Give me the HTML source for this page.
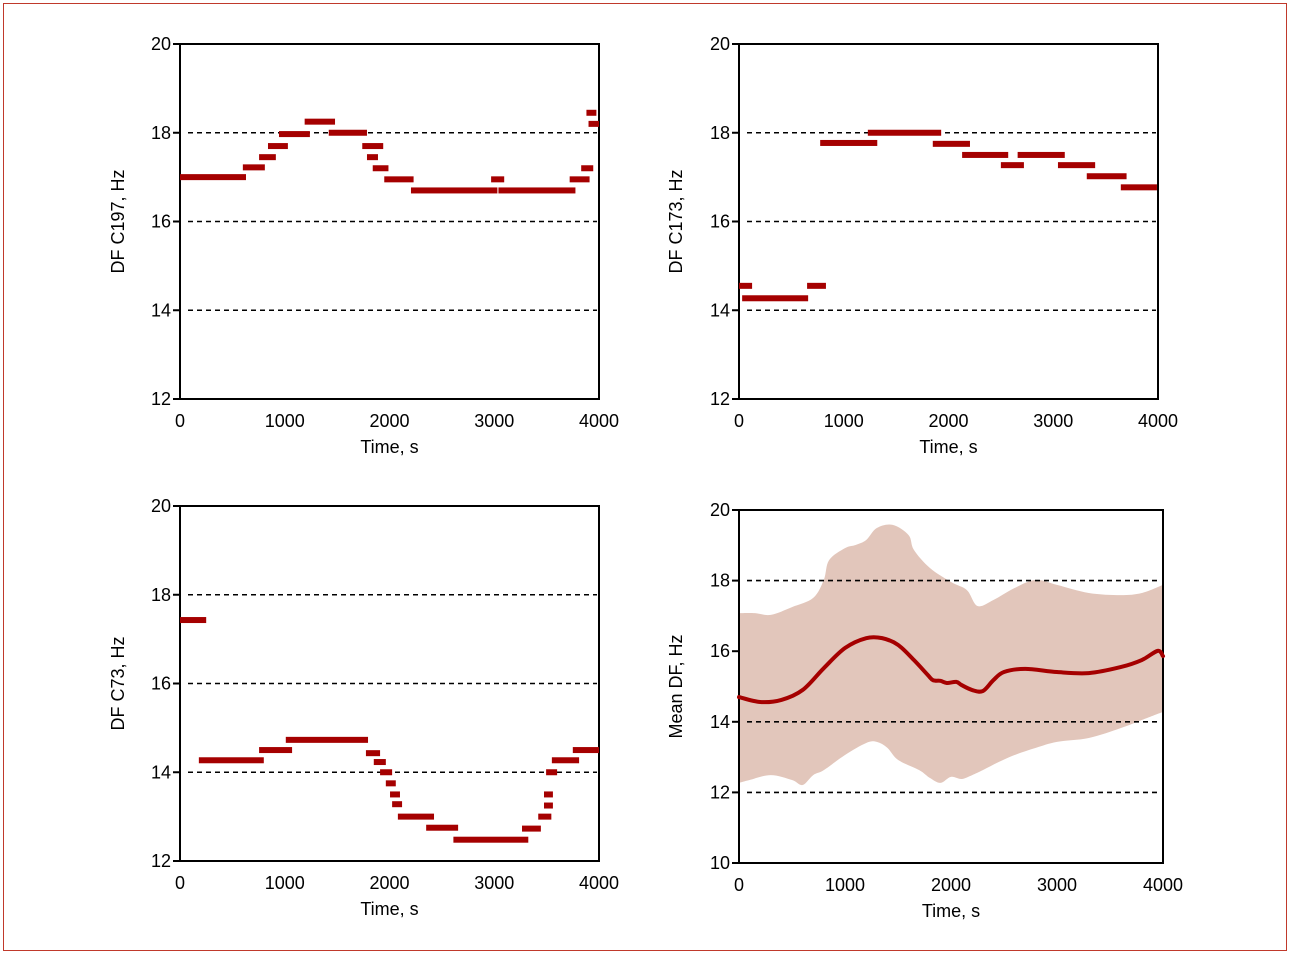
<!DOCTYPE html>
<html><head><meta charset="utf-8"><style>
body{margin:0;background:#fff;}
svg{display:block;font-family:"Liberation Sans Narrow","Liberation Sans",sans-serif;}
</style></head><body>
<svg id="chart" width="1290" height="958" xmlns="http://www.w3.org/2000/svg">
<rect x="3.5" y="3.5" width="1283" height="947" fill="none" stroke="#c0392b" stroke-width="1"/>
</svg>
<script>
// Data: bars as [startTime, endTime, DF]
const c197Bars=[[0,630,17.0],[600,810,17.22],[755,915,17.45],[840,1030,17.7],[945,1240,17.97],[1190,1480,18.25],[1420,1785,18.0],[1740,1940,17.7],[1785,1890,17.45],[1840,1990,17.2],[1950,2230,16.95],[2205,3030,16.7],[2970,3095,16.95],[3040,3775,16.7],[3720,3910,16.95],[3830,3945,17.2],[3880,3975,18.45],[3900,4000,18.2]];
const c173Bars=[[0,125,14.55],[30,660,14.27],[650,830,14.55],[775,1320,17.77],[1230,1930,18.0],[1850,2205,17.75],[2130,2570,17.5],[2500,2720,17.27],[2660,3110,17.5],[3045,3400,17.27],[3320,3700,17.02],[3645,3990,16.77]];
const c73Bars=[[0,250,17.43],[180,800,14.27],[755,1070,14.5],[1010,1795,14.73],[1775,1910,14.43],[1850,1965,14.23],[1910,2025,14.0],[1965,2060,13.75],[2005,2100,13.5],[2025,2120,13.28],[2080,2425,13.0],[2350,2655,12.75],[2610,3325,12.48],[3265,3445,12.73],[3420,3545,13.0],[3475,3560,13.25],[3475,3560,13.5],[3495,3600,14.0],[3550,3810,14.27],[3750,4000,14.5]];
const meanT=[0,200,400,600,800,1000,1200,1350,1500,1650,1780,1830,1900,1960,2050,2100,2200,2300,2400,2500,2700,3000,3300,3600,3800,3950,4000];
const meanV=[14.70,14.56,14.62,14.90,15.52,16.09,16.37,16.37,16.18,15.75,15.33,15.18,15.16,15.10,15.13,15.04,14.90,14.87,15.18,15.41,15.50,15.41,15.38,15.55,15.75,16.01,15.86];
const upperT=[0,150,300,500,700,800,850,1000,1100,1200,1300,1450,1600,1650,1800,2000,2150,2250,2400,2600,2800,3000,3300,3600,3800,4000];
const upperV=[17.08,17.08,17.03,17.25,17.51,18.02,18.58,18.92,19.01,19.15,19.49,19.58,19.29,18.87,18.36,17.96,17.73,17.28,17.45,17.79,18.02,17.88,17.65,17.59,17.65,17.88];
const lowerT=[0,100,300,500,600,700,800,1000,1200,1300,1400,1500,1700,1800,1900,2000,2100,2200,2300,2450,2600,2800,3000,3300,3600,3800,4000];
const lowerV=[12.27,12.35,12.49,12.35,12.21,12.49,12.63,13.06,13.40,13.43,13.26,12.92,12.63,12.41,12.27,12.44,12.38,12.49,12.63,12.86,13.06,13.26,13.43,13.54,13.82,14.05,14.28];
const xTicks=[0,1000,2000,3000,4000];
const yTicks1=[12,14,16,18,20];
const yTicks4=[10,12,14,16,18,20];

const NS="http://www.w3.org/2000/svg";
const svg=document.getElementById('chart');
function mk(tag,attrs,parent){const e=document.createElementNS(NS,tag);for(const k in attrs)e.setAttribute(k,attrs[k]);(parent||svg).appendChild(e);return e;}
function smooth(pts,start){
  let d=(start?'M':'L')+pts[0][0]+','+pts[0][1];
  for(let i=0;i<pts.length-1;i++){
    const p0=pts[Math.max(0,i-1)],p1=pts[i],p2=pts[i+1],p3=pts[Math.min(pts.length-1,i+2)];
    const c1=[p1[0]+(p2[0]-p0[0])/6,p1[1]+(p2[1]-p0[1])/6];
    const c2=[p2[0]-(p3[0]-p1[0])/6,p2[1]-(p3[1]-p1[1])/6];
    d+=` C${c1[0]},${c1[1]} ${c2[0]},${c2[1]} ${p2[0]},${p2[1]}`;
  }
  return d;
}

function panel(name,L,R,T,B,ymin,ymax,yTicks,dashes,ylabel,ylx){
  const g=mk('g',{});
  
  
  const sx=t=>L+(t/4000)*(R-L);
  const sy=v=>B-(v-ymin)/(ymax-ymin)*(B-T);
  dashes.forEach(v=>{const l=mk('line',{x1:L+8,x2:R-2,y1:sy(v),y2:sy(v),stroke:'#000','stroke-width':1.6,'stroke-dasharray':'5,4'},g);
    
    });
  const ax=mk('path',{d:`M${L},${T} V${B} H${R} V${T} H${L}`,fill:'none',stroke:'#000','stroke-width':2},g);
  
  
  yTicks.forEach(v=>{mk('line',{x1:L-7,x2:L,y1:sy(v),y2:sy(v),stroke:'#000','stroke-width':2},g);
    const t=mk('text',{x:L-9,y:sy(v)+6,'text-anchor':'end','font-size':18},g);t.textContent=v;
    
    });
  xTicks.forEach(v=>{const t=mk('text',{x:sx(v),y:B+28,'text-anchor':'middle','font-size':18},g);t.textContent=v;
    
    });
  const xt=mk('text',{x:(L+R)/2,y:B+54,'text-anchor':'middle','font-size':18},g);xt.textContent='Time, s';
  
  
  const yt=mk('text',{x:ylx,y:(T+B)/2,'text-anchor':'middle','font-size':18,transform:`rotate(-90 ${ylx} ${(T+B)/2})`},g);yt.textContent=ylabel;
  
  
  return {g,sx,sy};
}
function bars(p,data){
  data.forEach(d=>{const r=mk('rect',{x:p.sx(d[0]),y:p.sy(d[2])-3,width:p.sx(d[1])-p.sx(d[0]),height:6,fill:'#a50000'},p.g);
    
    });
}
const p1=panel('panel-c197',180,599,44,399,12,20,yTicks1,[14,16,18],'DF C197, Hz',124);
bars(p1,c197Bars);
const p2=panel('panel-c173',739,1158,44,399,12,20,yTicks1,[14,16,18],'DF C173, Hz',682);
bars(p2,c173Bars);
const p3=panel('panel-c73',180,599,506,861,12,20,yTicks1,[14,16,18],'DF C73, Hz',124);
bars(p3,c73Bars);
const p4=panel('panel-mean',739,1163,510,863,10,20,yTicks4,[12,14,18],'Mean DF, Hz',682);
const up=upperT.map((t,i)=>[p4.sx(t),p4.sy(upperV[i])]);
const lo=lowerT.map((t,i)=>[p4.sx(t),p4.sy(lowerV[i])]).reverse();
const d=smooth(up,true)+' '+smooth(lo,false)+' Z';
const band=mk('path',{d:d,fill:'#e2c6bb',stroke:'none'});
p4.g.insertBefore(band,p4.g.firstChild);


const ml=mk('path',{d:smooth(meanT.map((t,i)=>[p4.sx(t),p4.sy(meanV[i])]),true),fill:'none',stroke:'#a50000','stroke-width':4,'stroke-linejoin':'round','stroke-linecap':'round'},p4.g);


</script>
</body></html>
